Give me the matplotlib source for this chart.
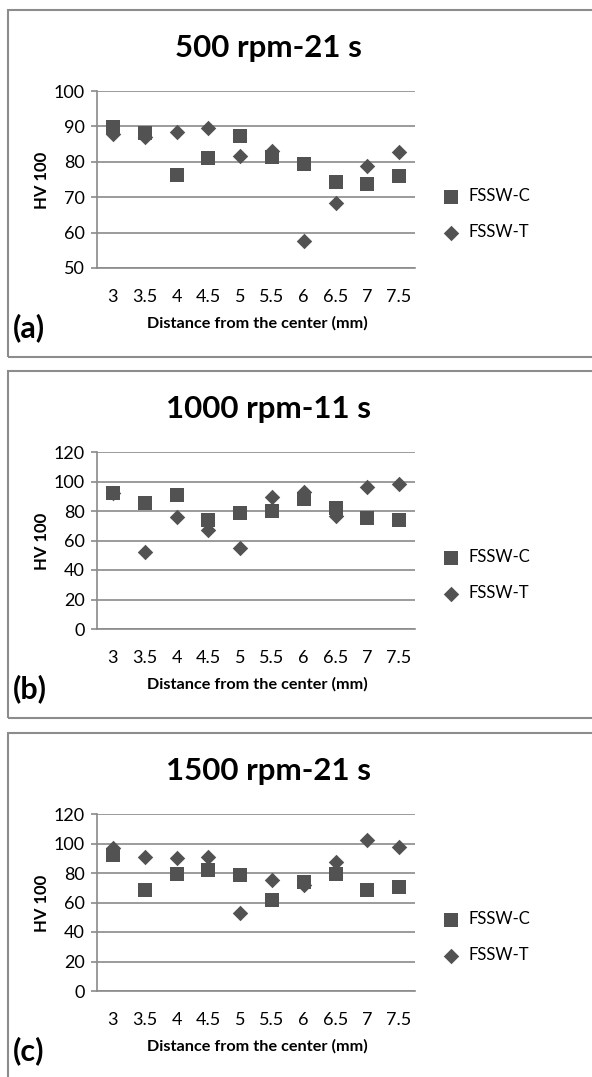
import numpy as np
import matplotlib.pyplot as plt
from matplotlib.patches import Rectangle

plt.rcParams['font.family'] = ['Lato', 'DejaVu Sans']

# data
distance = ['3', '3.5', '4', '4.5', '5', '5.5', '6', '6.5', '7', '7.5']

titles = ['500 rpm-21 s', '1000 rpm-11 s', '1500 rpm-21 s']
tags = ['(a)', '(b)', '(c)']

fssw_c_500 = [89.9, 88.0, 76.4, 81.1, 87.4, 81.3, 79.3, 74.3, 73.7, 75.9]
fssw_t_500 = [87.8, 87.0, 88.4, 89.6, 81.7, 83.1, 57.7, 68.4, 78.8, 82.9]

fssw_c_1000 = [92.0, 85.3, 90.7, 74.0, 78.5, 79.8, 88.0, 81.7, 75.0, 73.8]
fssw_t_1000 = [92.0, 52.0, 75.6, 66.8, 55.0, 89.8, 92.6, 76.4, 96.0, 98.1]

fssw_c_1500 = [92.5, 68.6, 79.0, 81.9, 78.5, 61.7, 74.2, 79.0, 68.3, 70.8]
fssw_t_1500 = [97.0, 90.8, 90.2, 90.8, 53.2, 75.0, 72.0, 87.4, 102.3, 97.8]

series_c = [fssw_c_500, fssw_c_1000, fssw_c_1500]
series_t = [fssw_t_500, fssw_t_1000, fssw_t_1500]
y_ranges = [(50, 100, 10), (0, 120, 20), (0, 120, 20)]

W, H = 592, 1077
fig = plt.figure(figsize=(W / 100, H / 100), dpi=100)

marker_col = '#525252'
grid_col = '#8a8a8a'
box_tops = [10, 371, 733]


def fx(x):
    return x / W


def fy(y):
    return 1 - y / H


for i in range(3):
    top = box_tops[i]

    # outer chart frame (runs off the right / bottom of the image)
    fig.patches.append(Rectangle((fx(8), fy(top + 347)), fx(620), 347 / H,
                                 transform=fig.transFigure, fill=False,
                                 edgecolor='#8c8c8c', linewidth=1.5))

    ax = fig.add_axes([fx(97), fy(top + 258), fx(318), 177 / H])
    x = np.arange(len(distance))
    ax.scatter(x, series_c[i], marker='s', s=105, color=marker_col,
               zorder=3, label='FSSW-C', linewidths=0)
    ax.scatter(x, series_t[i], marker='D', s=62, color=marker_col,
               zorder=4, label='FSSW-T', linewidths=0)

    lo, hi, step = y_ranges[i]
    ax.set_ylim(lo, hi)
    ax.set_yticks(np.arange(lo, hi + 1, step))
    ax.set_xlim(-0.5, len(distance) - 0.5)
    ax.set_xticks(x)
    ax.set_xticklabels(distance)
    ax.yaxis.grid(True, color=grid_col, linewidth=1.2)
    ax.set_axisbelow(True)
    for s in ['top', 'right']:
        ax.spines[s].set_visible(False)
    for s in ['left', 'bottom']:
        ax.spines[s].set_color(grid_col)
        ax.spines[s].set_linewidth(1.2)
    ax.tick_params(axis='y', length=4, color=grid_col, width=1.2,
                   labelsize=13, pad=5)
    ax.tick_params(axis='x', length=0, labelsize=13, pad=15)

    fig.text(fx(268), fy(top + 38), titles[i], fontsize=22.5,
             fontweight='bold', ha='center', va='center')
    fig.text(fx(42), fy(top + 170), 'HV 100', rotation=90, fontsize=12,
             fontweight='bold', ha='center', va='center')
    fig.text(fx(257), fy(top + 313), 'Distance from the center (mm)',
             fontsize=11.7, fontweight='bold', ha='center', va='center')
    fig.text(fx(13), fy(top + 318), tags[i], fontsize=22,
             fontweight='bold', ha='left', va='center')

    ax.legend(loc='center left', bbox_to_anchor=(fx(428), fy(top + 204)),
              bbox_transform=fig.transFigure, frameon=False, fontsize=12,
              handletextpad=0.0, labelspacing=1.2, borderaxespad=0,
              scatterpoints=1)

fig.savefig('out.png', dpi=100)
